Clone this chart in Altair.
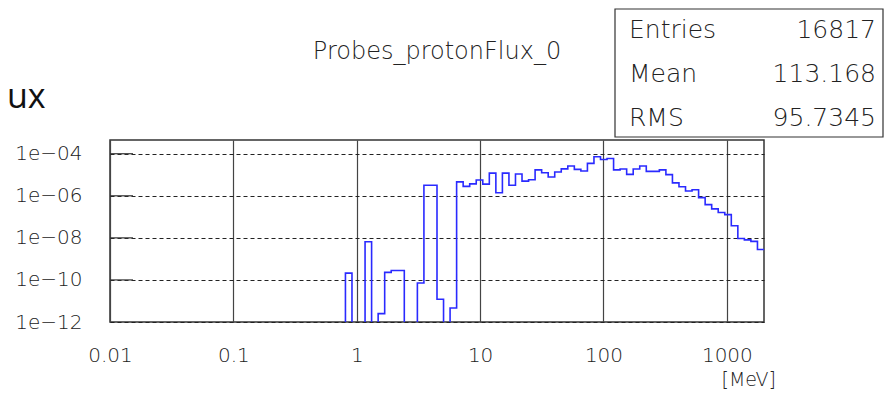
import altair as alt
import numpy as np
import pandas as pd

# ---- histogram definition: 100 log-spaced bins from 0.01 to 2000 MeV ----
E_MIN = 0.01
E_MAX = 2000.0
N_BINS = 100

# bin contents (flux per bin); 0 = empty bin
flux = [
    0, 0, 0, 0, 0, 0, 0, 0, 0, 0,
    0, 0, 0, 0, 0, 0, 0, 0, 0, 0,
    0, 0, 0, 0, 0, 0, 0, 0, 0, 0,
    0, 0, 0, 0, 0, 0,
    2.1e-10, 0, 0, 6.5e-9, 0, 2.5e-12, 2.3e-10, 2.8e-10, 2.8e-10, 0,
    0, 7.2e-11, 3.2e-6, 3.2e-6, 1.2e-11, 0, 4.6e-12, 4.6e-6, 2.8e-6, 3.7e-6,
    5.6e-6, 3.6e-6, 1.2e-5, 1.4e-6, 1.2e-5, 3.2e-6, 1.08e-5, 5.0e-6, 5.8e-6, 1.7e-5,
    1.24e-5, 7.8e-6, 1.35e-5, 1.9e-5, 2.6e-5, 1.8e-5, 1.5e-5, 3.5e-5, 7.2e-5, 5.3e-5,
    5.9e-5, 1.7e-5, 1.87e-5, 1.04e-5, 1.87e-5, 2.6e-5, 1.45e-5, 1.45e-5, 1.7e-5, 1.02e-5,
    4.1e-6, 2.7e-6, 1.7e-6, 1.95e-6, 8.2e-7, 3.8e-7, 2.4e-7, 1.6e-7, 1.27e-7, 3.8e-8,
    9.4e-9, 8.0e-9, 6.8e-9, 2.8e-9,
]

x_ticks = [0.01, 0.1, 1, 10, 100, 1000]
y_ticks = [1e-12, 1e-10, 1e-8, 1e-6, 1e-4]
Y_MIN = 1e-12
Y_MAX = 4.5e-4

stats_labels = ["Entries", "Mean", "RMS"]
stats_values = ["16817", "113.168", "95.7345"]

title_text = "Probes_protonFlux_0"
unit_text = "[MeV]"
side_text = "ux"

# ---- build step data ----
edges = np.logspace(np.log10(E_MIN), np.log10(E_MAX), N_BINS + 1)
vals = list(flux) + [flux[-1]]
plot_vals = [v if v > 0 else 1e-16 for v in vals]
df = pd.DataFrame({"E": edges, "flux": plot_vals})

FONT = "DejaVu Sans"
FW = 200
TXT = "#222222"
W, H = 654, 182

xscale = alt.Scale(type="log", domain=[E_MIN, E_MAX], nice=False)
yscale = alt.Scale(type="log", domain=[Y_MIN, Y_MAX], nice=False)

y_label_expr = ("'1e\u2212' + (abs(round(log(datum.value)/LN10)) < 10 ? '0' : '') + "
                "abs(round(log(datum.value)/LN10))")

xaxis = alt.Axis(values=x_ticks, format="~g", grid=True, gridColor="#444444", gridWidth=1.2,
                 ticks=False, tickSize=0, domain=False, title=None,
                 labelFont=FONT, labelFontWeight=FW, labelFontSize=20, labelColor=TXT,
                 labelPadding=23, labelFlush=False, labelOverlap=False)
yaxis = alt.Axis(values=y_ticks, labelExpr=y_label_expr, grid=True, gridColor="#222222",
                 gridWidth=1.2, gridDash=[4, 3], ticks=False, tickSize=0, domain=False,
                 title=None, labelFont=FONT, labelFontWeight=FW, labelFontSize=20,
                 labelColor=TXT, labelPadding=28, labelFlush=False, labelOverlap=False)

hist = alt.Chart(df).mark_line(interpolate="step-after", color="#2a2aff", strokeWidth=1.6,
                               clip=True).encode(
    x=alt.X("E:Q", scale=xscale, axis=xaxis),
    y=alt.Y("flux:Q", scale=yscale, axis=yaxis),
)

tick_df = pd.DataFrame({"v": y_ticks[1:]})
inner_ticks = alt.Chart(tick_df).mark_rule(color="#333333", strokeWidth=1.2).encode(
    x=alt.value(0), x2=alt.value(23), y=alt.Y("v:Q", scale=yscale, axis=yaxis)
)

layers = [hist, inner_ticks]

# title
layers.append(alt.Chart(pd.DataFrame({"t": [title_text]})).mark_text(
    align="center", baseline="middle", font=FONT, fontWeight=FW, fontSize=24, color=TXT
).encode(x=alt.value(W / 2), y=alt.value(-88), text="t:N"))

# stats box
box = alt.Chart(pd.DataFrame({"a": [0]})).mark_rect(fill="white", stroke="#333333",
                                                     strokeWidth=1.2).encode(
    x=alt.value(505), x2=alt.value(773), y=alt.value(-131), y2=alt.value(-3)
)
layers.append(box)
row_y = [-110, -66, -22]
for lab, val, yy in zip(stats_labels, stats_values, row_y):
    layers.append(alt.Chart(pd.DataFrame({"t": [lab]})).mark_text(
        align="left", baseline="middle", font=FONT, fontWeight=FW, fontSize=25, color=TXT
    ).encode(x=alt.value(519), y=alt.value(yy), text="t:N"))
    layers.append(alt.Chart(pd.DataFrame({"t": [val]})).mark_text(
        align="right", baseline="middle", font=FONT, fontWeight=FW, fontSize=25, color=TXT
    ).encode(x=alt.value(766), y=alt.value(yy), text="t:N"))

# unit label under the x axis
layers.append(alt.Chart(pd.DataFrame({"t": [unit_text]})).mark_text(
    align="right", baseline="middle", font=FONT, fontWeight=FW, fontSize=19, color=TXT
).encode(x=alt.value(666), y=alt.value(240), text="t:N"))

# partially visible y title at the top left
layers.append(alt.Chart(pd.DataFrame({"t": [side_text]})).mark_text(
    align="left", baseline="alphabetic", font="Open Sans", fontWeight=500, fontSize=34,
    color="#111111"
).encode(x=alt.value(-103), y=alt.value(-32), text="t:N"))

chart = alt.layer(*layers).properties(
    width=W, height=H,
    autosize=alt.AutoSizeParams(type="none"),
    padding={"left": 102, "top": 132, "right": 120, "bottom": 73},
).configure_view(stroke="#333333", strokeWidth=1.5)

chart.save("out.html", embed_options={"renderer": "svg", "actions": False})
